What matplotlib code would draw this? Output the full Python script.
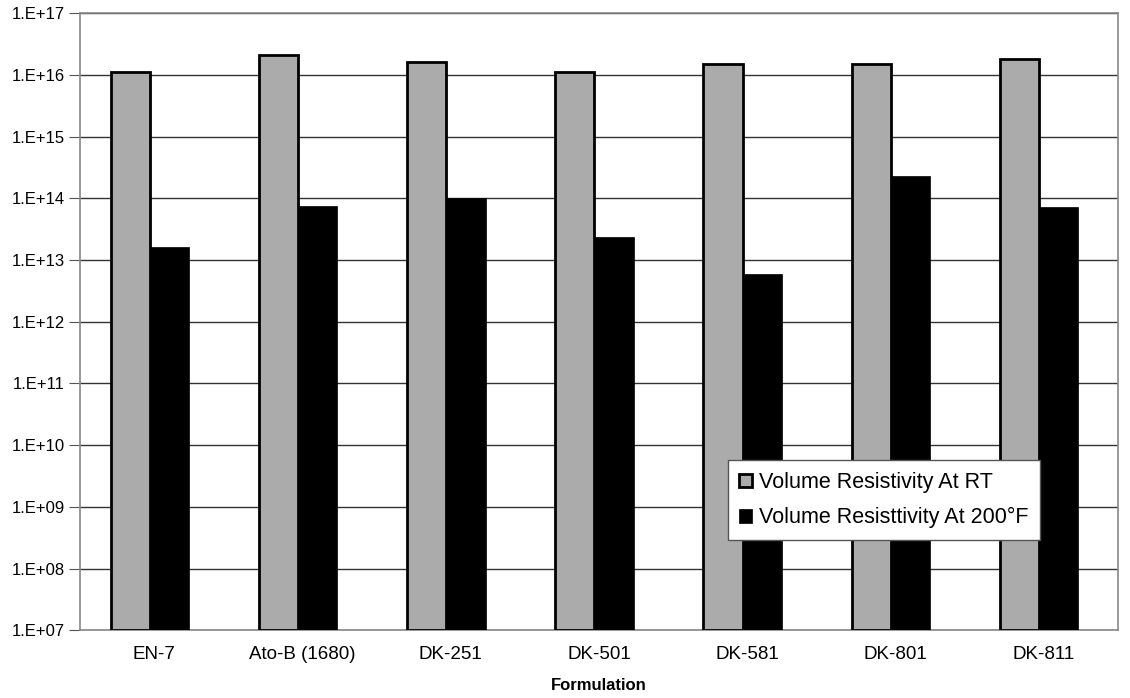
import numpy as np
import matplotlib.pyplot as plt
from matplotlib.ticker import FixedLocator, FuncFormatter, NullLocator

plt.rcParams['font.family'] = ['Liberation Sans', 'DejaVu Sans']

formulations = ["EN-7", "Ato-B (1680)", "DK-251", "DK-501", "DK-581", "DK-801", "DK-811"]
vr_rt = [1.1e16, 2.1e16, 1.6e16, 1.1e16, 1.5e16, 1.5e16, 1.8e16]
vr_200f = [1.6e13, 7.5e13, 1.0e14, 2.4e13, 6.0e12, 2.3e14, 7.3e13]
labels = ["Volume Resistivity At RT", "Volume Resisttivity At 200°F"]


def main():
    fig = plt.figure(figsize=(11.3, 6.98), dpi=100)
    ax = fig.add_axes([0.071, 0.097, 0.918, 0.884])

    x = np.arange(len(formulations))
    w = 0.265
    ax.bar(x - w / 2 - 0.03, vr_rt, w, bottom=1e7, color="#ababab", edgecolor="black",
           linewidth=2, label=labels[0], zorder=3)
    ax.bar(x + w / 2 - 0.03, vr_200f, w, bottom=1e7, color="black", edgecolor="black",
           linewidth=0.5, label=labels[1], zorder=3)

    ax.set_yscale("log")
    ax.set_ylim(1e7, 1e17)
    ax.set_xlim(-0.5, len(formulations) - 0.5)
    ax.yaxis.set_major_locator(FixedLocator([10.0 ** k for k in range(7, 18)]))
    ax.yaxis.set_minor_locator(NullLocator())
    ax.yaxis.set_major_formatter(FuncFormatter(lambda v, p: "1.E+%02d" % round(np.log10(v))))
    ax.yaxis.grid(True, color="#333333", linewidth=1.0, zorder=0)

    ax.set_xticks(x)
    ax.set_xticklabels(formulations, fontsize=13.5)
    ax.tick_params(axis="x", length=0, pad=11)
    ax.tick_params(axis="y", labelsize=12, length=8, width=0.8, color="#555555", pad=3)

    for s in ax.spines.values():
        s.set_color("#888888")
        s.set_linewidth(1.2)

    ax.set_xlabel("Formulation", fontsize=12, fontweight="bold", labelpad=11)

    leg = ax.legend(loc="lower left", bbox_to_anchor=(0.624, 0.146), fontsize=15.5,
                    frameon=True, fancybox=False, framealpha=1, handlelength=0.6,
                    handleheight=0.6, handletextpad=0.3, borderpad=0.55, labelspacing=0.65,
                    borderaxespad=0)
    leg.get_frame().set_edgecolor("#555555")
    leg.get_frame().set_linewidth(1.0)

    fig.savefig("out.png", dpi=100)


if __name__ == "__main__":
    main()
